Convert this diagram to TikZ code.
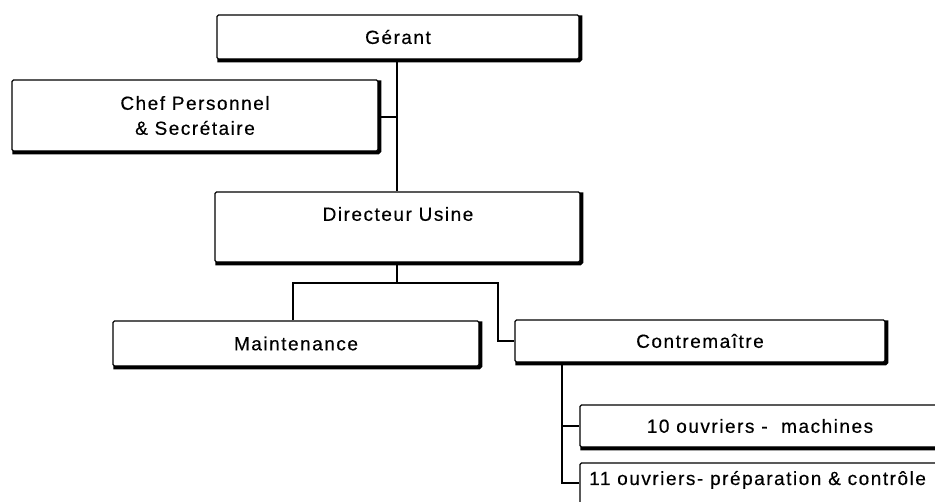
\documentclass[tikz,border=0pt]{standalone}
\usepackage{fontspec}
\setmainfont{Liberation Sans}[LetterSpace=8,FakeBold=0.4]
\begin{document}
\begin{tikzpicture}[x=1pt,y=-1pt,
  box/.style={draw, line width=1.2pt, rounded corners=1.5pt, inner sep=0pt, align=center,
    font=\fontsize{19}{25}\selectfont},
  lbl/.style={inner sep=0pt, font=\fontsize{19}{25}\selectfont},
  conn/.style={line width=1.3pt},
  shade/.style={line width=3.6pt, rounded corners=1.5pt}]
\useasboundingbox (0,0) rectangle (935,502);
\clip (0,0) rectangle (935,502);
% boxes
\node[box, minimum width=362pt, minimum height=44pt] (gerant) at (398,37) {G\'erant};
\node[box, minimum width=366pt, minimum height=71pt] (chef) at (195,115.5) {Chef Personnel\\\& Secr\'etaire};
\node[box, minimum width=365pt, minimum height=70pt] (dir) at (397.5,227) {};
\node[lbl] (dirtext) at (398,214) {Directeur Usine};
\node[box, minimum width=366pt, minimum height=45pt] (maint) at (296,343.5) {Maintenance};
\node[box, minimum width=370pt, minimum height=42pt] (contre) at (700,341) {Contrema\^itre};
\node[box, minimum width=360pt, minimum height=42pt] (ouv10) at (760,426) {10 ouvriers -\ \ machines};
\node[box, minimum width=360pt, minimum height=60pt] (ouv11) at (760,493) {};
\node[lbl, anchor=base west] (ouv11text) at (589,485) {11 ouvriers- pr\'eparation \& contr\^ole};
% shadows (thick right and bottom edges)
\foreach \n in {gerant,chef,dir,maint,contre,ouv10,ouv11}
  \draw[shade] ([xshift=1pt,yshift=-1pt]\n.north east) -- ([xshift=1pt,yshift=-1pt]\n.south east) -- ([xshift=1pt,yshift=-1pt]\n.south west);
% connectors
\coordinate (spine) at (397,117);
\draw[conn] (gerant.south -| spine) -- (dir.north -| spine);
\draw[conn] (chef.east |- spine) -- (spine);
\coordinate (hub) at (397,283);
\coordinate (hl) at (293,283);
\coordinate (hr) at (498,283);
\draw[conn] (dir.south -| hub) -- (hub);
\draw[conn] (maint.north -| hl) -- (hl) -- (hr) -- (hr |- contre.west) -- (contre.west);
\coordinate (cs) at (562,483);
\draw[conn] (contre.south -| cs) -- (cs) -- (cs -| ouv11.west);
\draw[conn] (ouv10.west -| cs) -- (ouv10.west);
\end{tikzpicture}
\end{document}
